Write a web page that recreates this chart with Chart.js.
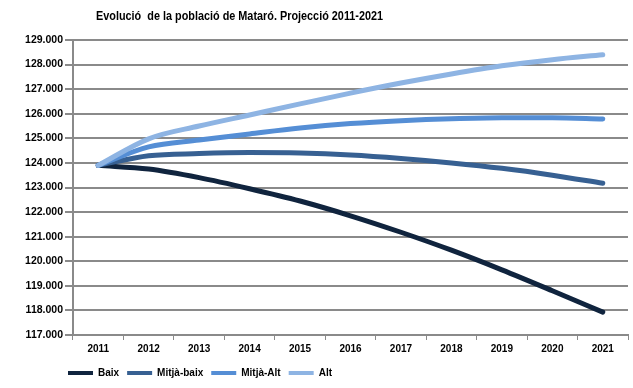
<!DOCTYPE html>
<html>
<head>
<meta charset="utf-8">
<script src="https://cdn.jsdelivr.net/npm/chart.js@4"></script>
<style>
  html, body { margin: 0; padding: 0; background: #fff; }
  #wrap { position: relative; width: 633px; height: 388px; }
  #titol {
    position: absolute; left: 96px; top: 8px;
    font: bold 13.5px "Liberation Sans Narrow", "Liberation Sans", Arial, sans-serif; color: #000;
    white-space: pre; transform-origin: 0 0;
  }
</style>
</head>
<body>
<div id="wrap">
  <div id="titol">Evolució  de la població de Mataró. Projecció 2011-2021</div>
  <canvas id="grafic" width="633" height="388"></canvas>
</div>
<script>
// dades llegides del gràfic
const anys = ['2011', '2012', '2013', '2014', '2015', '2016', '2017', '2018', '2019', '2020', '2021'];
const baix = [123900, 123750, 123400, 122950, 122450, 121850, 121180, 120450, 119650, 118800, 117930];
const mitjaBaix = [123900, 124290, 124380, 124420, 124400, 124320, 124180, 124000, 123780, 123500, 123170];
const mitjaAlt = [123900, 124650, 124930, 125180, 125420, 125600, 125720, 125800, 125840, 125840, 125790];
const alt = [123900, 124980, 125500, 125950, 126400, 126840, 127250, 127620, 127950, 128200, 128400];
const nomsSeries = ['Baix', 'Mitjà-baix', 'Mitjà-Alt', 'Alt'];
const colors = ['#10243e', '#376092', '#558ed5', '#8eb4e3'];

const fontBold = { family: '"Liberation Sans", Arial, sans-serif', size: 10, weight: 'bold' };
const gris = '#8a8a8a';

// el títol original és més estret
const titol = document.getElementById('titol');
if (titol.offsetWidth > 292) {
    titol.style.transform = 'scaleX(' + (287 / titol.offsetWidth) + ')';
}

function serie(i, valors) {
    return {
        label: nomsSeries[i],
        data: valors,
        borderColor: colors[i],
        backgroundColor: colors[i],
        borderWidth: 5,
        borderCapStyle: 'round',
        pointRadius: 0,
        cubicInterpolationMode: 'monotone',
        order: 4 - i  // la sèrie Alt queda a sobre
    };
}

// moure la llegenda cap a la dreta, com a l'original
const llegendaDesplacada = {
    id: 'llegendaDesplacada',
    afterLayout(chart) {
        chart.legend.left = 60;
        chart.legend.top += 3;
    }
};

const ctx = document.getElementById('grafic').getContext('2d');
new Chart(ctx, {
    type: 'line',
    data: {
        labels: anys,
        datasets: [serie(0, baix), serie(1, mitjaBaix), serie(2, mitjaAlt), serie(3, alt)]
    },
    options: {
        responsive: false,
        animation: false,
        layout: { padding: { top: 40, right: 5, left: 0, bottom: 3 } },
        plugins: {
            title: { display: false },
            tooltip: { enabled: false },
            legend: {
                position: 'bottom',
                align: 'start',
                labels: {
                    color: '#000',
                    font: fontBold,
                    boxWidth: 25,
                    boxHeight: 4,
                    padding: 8,
                    sort: (a, b) => a.datasetIndex - b.datasetIndex,
                    generateLabels: function(chart) {
                        const items = Chart.defaults.plugins.legend.labels.generateLabels(chart);
                        items.forEach(it => { it.lineWidth = 0; });
                        return items;
                    }
                }
            }
        },
        scales: {
            x: {
                offset: true,
                border: { color: gris, width: 2 },
                grid: { offset: true, drawOnChartArea: false, color: gris, lineWidth: 1, tickLength: 5 },
                ticks: { color: '#000', font: fontBold, padding: 3, maxRotation: 0 },
                afterFit: function(scale) { scale.height = 22; }
            },
            y: {
                min: 117000,
                max: 129000,
                border: { color: gris, width: 2 },
                grid: { color: gris, lineWidth: 2, tickLength: 8 },
                ticks: {
                    stepSize: 1000,
                    color: '#000',
                    font: { family: '"Liberation Sans", Arial, sans-serif', size: 10.5, weight: 'bold' },
                    padding: 2,
                    callback: v => (v / 1000).toFixed(3)
                },
                afterFit: function(scale) { scale.width = 73; }
            }
        }
    },
    plugins: [llegendaDesplacada]
});
</script>
</body>
</html>
